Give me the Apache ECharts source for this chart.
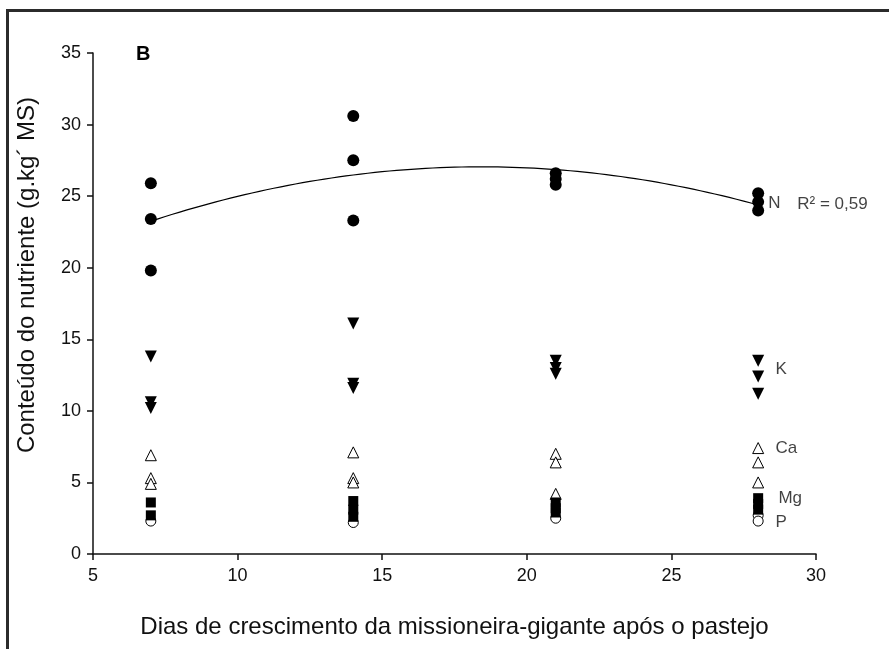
<!DOCTYPE html>
<html>
<head>
<meta charset="utf-8">
<script src="https://cdn.jsdelivr.net/npm/echarts@6/dist/echarts.min.js"></script>
<style>
html,body{margin:0;padding:0;background:#fff;}
#c{width:889px;height:649px;}
</style>
</head>
<body>
<div id="c"></div>
<script>
// ---- data ----
const xTicks = [5, 10, 15, 20, 25, 30];
const yTicks = [0, 5, 10, 15, 20, 25, 30, 35];

const nDays = [7, 7, 7, 14, 14, 14, 21, 21, 21, 28, 28, 28];
const nVals = [25.9, 23.4, 19.8, 30.6, 27.5, 23.3, 26.6, 26.2, 25.8, 25.2, 24.6, 24.0];

const kDays = [7, 7, 7, 14, 14, 14, 21, 21, 21, 28, 28, 28];
const kVals = [13.8, 10.6, 10.2, 16.1, 11.9, 11.6, 13.5, 13.0, 12.6, 13.5, 12.4, 11.2];

const caDays = [7, 7, 7, 14, 14, 14, 21, 21, 21, 28, 28, 28];
const caVals = [6.9, 5.3, 4.9, 7.1, 5.3, 5.0, 7.0, 6.4, 4.2, 7.4, 6.4, 5.0];

const mgDays = [7, 7, 14, 14, 14, 21, 21, 21, 28, 28, 28];
const mgVals = [3.6, 2.7, 3.7, 3.1, 2.6, 3.6, 3.2, 2.9, 3.9, 3.5, 3.1];

const pDays = [7, 14, 21, 28, 28];
const pVals = [2.3, 2.2, 2.5, 2.7, 2.3];

const labelNames = ['N', 'K', 'Ca', 'Mg', 'P'];
const labelX = [28.35, 28.6, 28.6, 28.7, 28.6];
const labelY = [24.5, 12.9, 7.4, 3.9, 2.2];

const r2Text = 'R² = 0,59';
const xTitle = 'Dias de crescimento da missioneira-gigante após o pastejo';
const yTitle = 'Conteúdo do nutriente (g.kg´ MS)';

// ---- quadratic regression of N ----
function quadFit(xs, ys) {
  let S = [0,0,0,0,0], T = [0,0,0];
  for (let i = 0; i < xs.length; i++) {
    const x = xs[i], y = ys[i];
    let p = 1;
    for (let k = 0; k < 5; k++) { S[k] += p; if (k < 3) T[k] += p * y; p *= x; }
  }
  const A = [[S[0],S[1],S[2],T[0]],[S[1],S[2],S[3],T[1]],[S[2],S[3],S[4],T[2]]];
  for (let i = 0; i < 3; i++) {
    for (let j = i + 1; j < 3; j++) {
      const f = A[j][i] / A[i][i];
      for (let k = i; k < 4; k++) A[j][k] -= f * A[i][k];
    }
  }
  const c = [0,0,0];
  for (let i = 2; i >= 0; i--) {
    let s = A[i][3];
    for (let k = i + 1; k < 3; k++) s -= A[i][k] * c[k];
    c[i] = s / A[i][i];
  }
  return c;
}
const coef = quadFit(nDays, nVals);
const fitLine = [];
for (let x = 7; x <= 28.0001; x += 0.25) {
  fitLine.push([x, coef[0] + coef[1] * x + coef[2] * x * x]);
}

const zip = (a, b) => a.map((v, i) => [v, b[i]]);
const font = 'Liberation Sans, Arial, sans-serif';

const chart = echarts.init(document.getElementById('c'));
chart.setOption({
  animation: false,
  backgroundColor: '#fff',
  grid: { left: 93, right: 73, top: 53, bottom: 95, containLabel: false },
  xAxis: {
    type: 'value', min: 5, max: 30, interval: 5,
    axisLine: { show: true, onZero: false, lineStyle: { color: '#111', width: 1.5 } },
    axisTick: { show: true, length: 6, lineStyle: { color: '#111', width: 1.5 } },
    splitLine: { show: false },
    axisLabel: { margin: 13, fontSize: 18, color: '#111', fontFamily: font,
      formatter: v => xTicks.includes(v) ? String(v) : '' },
    name: xTitle, nameLocation: 'middle', nameGap: 61,
    nameTextStyle: { fontSize: 24, color: '#111', fontFamily: font }
  },
  yAxis: {
    type: 'value', min: 0, max: 35, interval: 5,
    axisLine: { show: true, onZero: false, lineStyle: { color: '#111', width: 1.5 } },
    axisTick: { show: true, length: 6, lineStyle: { color: '#111', width: 1.5 } },
    splitLine: { show: false },
    axisLabel: { margin: 12, fontSize: 18, color: '#111', fontFamily: font,
      formatter: v => yTicks.includes(v) ? String(v) : '' }
  },
  graphic: [
    { type: 'rect', shape: { x: 6, y: 9, width: 883, height: 3 }, style: { fill: '#2b2b2b' } },
    { type: 'rect', shape: { x: 6, y: 9, width: 3, height: 640 }, style: { fill: '#2b2b2b' } },
    { type: 'text', left: 136, top: 44, style: { text: 'B', font: 'bold 20px ' + font, fill: '#000' } },
    { type: 'text', x: 27, y: 275, rotation: Math.PI / 2,
      style: { text: yTitle, font: '24px ' + font, fill: '#111', align: 'center', verticalAlign: 'middle' } }
  ],
  series: [
    { type: 'line', data: fitLine, showSymbol: false, symbol: 'none', smooth: false,
      lineStyle: { color: '#000', width: 1.2 }, z: 2 },
    { type: 'scatter', data: zip(pDays, pVals), symbol: 'circle', symbolSize: 10,
      itemStyle: { color: '#fff', borderColor: '#000', borderWidth: 1, opacity: 1 }, z: 3 },
    { type: 'scatter', data: zip(caDays, caVals), symbol: 'triangle', symbolSize: 11,
      itemStyle: { color: '#fff', borderColor: '#000', borderWidth: 1, opacity: 1 }, z: 4 },
    { type: 'scatter', data: zip(mgDays, mgVals), symbol: 'rect', symbolSize: 10,
      itemStyle: { color: '#000', opacity: 1 }, z: 5 },
    { type: 'scatter', data: zip(kDays, kVals), symbol: 'triangle', symbolRotate: 180, symbolSize: 12,
      itemStyle: { color: '#000', opacity: 1 }, z: 6 },
    { type: 'scatter', data: zip(nDays, nVals), symbol: 'circle', symbolSize: 12,
      itemStyle: { color: '#000', opacity: 1 }, z: 7 },
    { type: 'scatter', data: zip(labelX, labelY).map((p, i) => ({ value: p, name: labelNames[i] })),
      symbolSize: 0, silent: true, z: 8,
      label: { show: true, position: 'right', distance: 0, formatter: p => p.name,
        fontSize: 17, color: '#111', fontFamily: font } },
    { type: 'scatter', data: [[28.35, 24.4]], symbolSize: 0, silent: true, z: 8,
      label: { show: true, position: 'right', distance: 29, formatter: () => r2Text,
        fontSize: 17, color: '#111', fontFamily: font } }
  ]
});
</script>
</body>
</html>
